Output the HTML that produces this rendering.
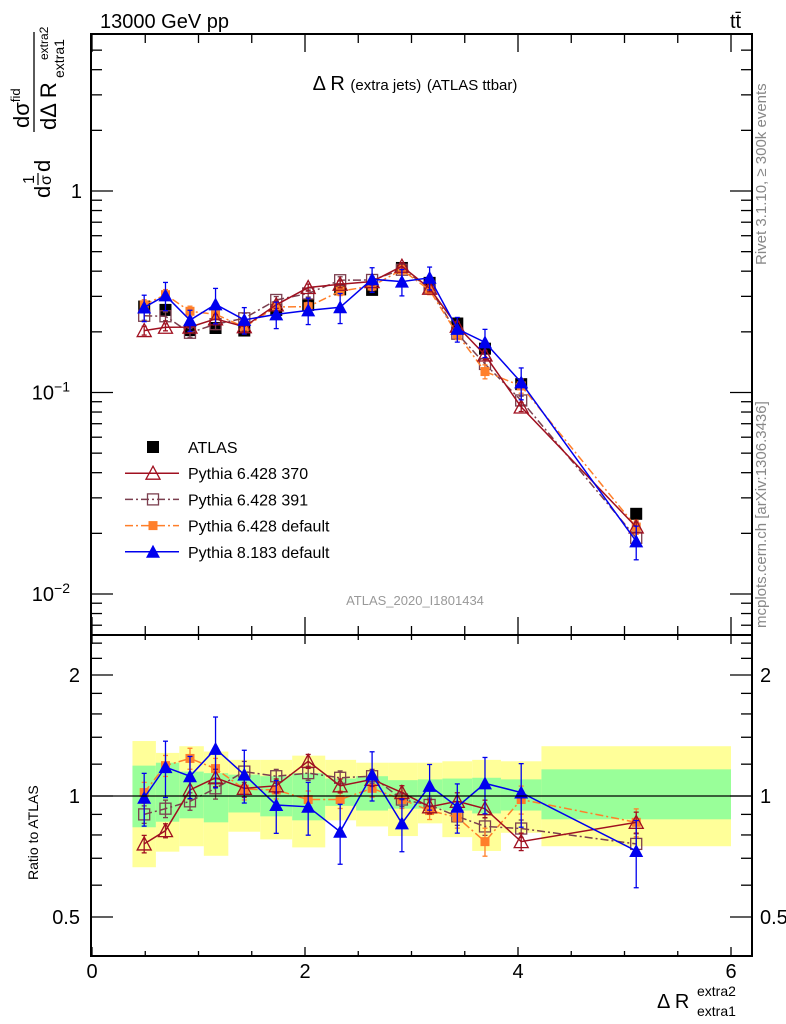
<!DOCTYPE html>
<html><head><meta charset="utf-8"><style>
body{margin:0;background:#fff}
svg{display:block;font-family:"Liberation Sans",sans-serif}
</style></head><body>
<svg id="chart" width="786" height="1024" xmlns="http://www.w3.org/2000/svg">
<g id="bands"></g>
<g id="marks"></g>
<g id="axes"></g>
<text x="100" y="28" font-size="20">13000 GeV pp</text>
<text x="730" y="28" font-size="20">tt̄</text>
<text x="415" y="90" font-size="20" text-anchor="middle">Δ R <tspan font-size="15">(extra jets)</tspan> <tspan font-size="15">(ATLAS ttbar)</tspan></text>
<text x="415" y="605" font-size="13" fill="#999" text-anchor="middle">ATLAS_2020_I1801434</text>
<text transform="translate(766,265) rotate(-90)" font-size="15" fill="#888" text-anchor="start">Rivet 3.1.10, ≥ 300k events</text>
<text transform="translate(766,628) rotate(-90)" font-size="15" fill="#888">mcplots.cern.ch [arXiv:1306.3436]</text>
<g transform="translate(0,200) rotate(-90)">
 <text x="2" y="50" font-size="22">d</text>
 <text x="16" y="34" font-size="16">1</text>
 <line x1="15" x2="27" y1="38" y2="38" stroke="#000" stroke-width="1.2"/>
 <text x="15" y="51" font-size="16">σ</text>
 <text x="28" y="50" font-size="22">d</text>
 <text x="72" y="29" font-size="22">dσ<tspan font-size="13" dy="-9">fid</tspan></text>
 <line x1="68" x2="168" y1="34" y2="34" stroke="#000" stroke-width="1.3"/>
 <text x="70" y="56" font-size="22">dΔ R</text>
 <text x="122" y="64" font-size="14">extra1</text>
 <text x="140" y="48" font-size="12">extra2</text>
</g>
<text transform="translate(38,880) rotate(-90)" font-size="14">Ratio to ATLAS</text>
<text x="657" y="1008" font-size="20">Δ R</text>
<text x="697" y="996" font-size="14">extra2</text>
<text x="697" y="1016" font-size="14">extra1</text>
<g id="legend"></g>
</svg>
<script>
const xs=[0.49,0.69,0.92,1.16,1.43,1.73,2.03,2.33,2.63,2.91,3.17,3.43,3.69,4.03,5.11];
const atlas=[0.267,0.257,0.204,0.209,0.203,0.257,0.272,0.325,0.323,0.415,0.35,0.22,0.165,0.11,0.025];
const binEdges=[0.38,0.60,0.82,1.05,1.28,1.58,1.88,2.19,2.48,2.78,3.06,3.29,3.57,3.84,4.22,6.0];
const yelHi=[1.37,1.28,1.33,1.29,1.23,1.23,1.26,1.23,1.21,1.21,1.21,1.22,1.23,1.22,1.33];
const yelLo=[0.665,0.727,0.75,0.71,0.815,0.78,0.745,0.87,0.84,0.795,0.855,0.79,0.73,0.81,0.75];
const grnHi=[1.19,1.21,1.15,1.14,1.13,1.12,1.14,1.105,1.12,1.095,1.10,1.105,1.11,1.10,1.165];
const grnLo=[0.836,0.863,0.88,0.86,0.91,0.89,0.87,0.945,0.92,0.93,0.93,0.92,0.905,0.92,0.875];
const r370=[0.76,0.82,1.035,1.11,1.045,1.06,1.22,1.06,1.10,1.02,0.94,0.97,0.93,0.77,0.86];
const r391=[0.90,0.93,0.97,1.045,1.15,1.12,1.14,1.11,1.12,0.98,0.95,0.89,0.84,0.83,0.76];
const rDef=[1.02,1.19,1.24,1.17,1.04,1.035,0.98,0.98,1.045,0.98,0.92,0.885,0.77,0.98,0.86];
const rP8=[0.99,1.18,1.12,1.31,1.13,0.95,0.94,0.815,1.13,0.855,1.06,0.94,1.075,1.02,0.73];
const e370=[0.05,0.04,0.05,0.05,0.05,0.04,0.04,0.04,0.04,0.04,0.04,0.05,0.05,0.05,0.06];
const e391=[0.05,0.05,0.05,0.06,0.06,0.04,0.04,0.04,0.04,0.04,0.04,0.05,0.05,0.05,0.06];
const eDef=[0.06,0.06,0.06,0.06,0.06,0.05,0.05,0.05,0.05,0.05,0.05,0.06,0.08,0.08,0.08];
const eP8=[0.15,0.16,0.12,0.20,0.15,0.15,0.15,0.17,0.14,0.15,0.13,0.14,0.16,0.18,0.19];
const eAtlas=[0.05,0.05,0.05,0.04,0.04,0.04,0.04,0.04,0.04,0.04,0.04,0.05,0.05,0.05,0.05];
const xTicks=[0,2,4,6];
const NS='http://www.w3.org/2000/svg';
const L=91,R=752,T=34,MB=635,RB=956;
const X=v=>92+v*106.5;
const Ym=v=>191-Math.log10(v)*201.5;
const Yr=v=>796-Math.log10(v)*402;
function mk(tag,at,par){const e=document.createElementNS(NS,tag);for(const k in at)e.setAttribute(k,at[k]);par.appendChild(e);return e;}
const bands=document.getElementById('bands'),marks=document.getElementById('marks'),axes=document.getElementById('axes'),leg=document.getElementById('legend');
for(let i=0;i<yelHi.length;i++){
 let r=mk('rect',{x:X(binEdges[i]),y:Yr(yelHi[i]),width:X(binEdges[i+1])-X(binEdges[i]),height:Yr(yelLo[i])-Yr(yelHi[i]),fill:'#ffff99'},bands);
 
 
 let g=mk('rect',{x:X(binEdges[i]),y:Yr(grnHi[i]),width:X(binEdges[i+1])-X(binEdges[i]),height:Yr(grnLo[i])-Yr(grnHi[i]),fill:'#99ff99'},bands);
 
 
}
mk('line',{x1:L,x2:R,y1:Yr(1),y2:Yr(1),stroke:'#000','stroke-width':1.3},axes);
function marker(type,cx,cy,col,par){
 if(type==='sq'){mk('rect',{x:cx-6,y:cy-6,width:12,height:12,fill:'#000'},par);}
 else if(type==='osq'){mk('rect',{x:cx-5.5,y:cy-5.5,width:11,height:11,fill:'none',stroke:col,'stroke-width':1.3},par);}
 else if(type==='fsq'){mk('rect',{x:cx-4.5,y:cy-4.5,width:9,height:9,fill:col},par);}
 else if(type==='otri'){mk('path',{d:`M${cx},${cy-7}L${cx+7},${cy+6}L${cx-7},${cy+6}Z`,fill:'none',stroke:col,'stroke-width':1.3},par);}
 else {mk('path',{d:`M${cx},${cy-7}L${cx+7},${cy+6}L${cx-7},${cy+6}Z`,fill:col},par);}
}
const series=[
 {name:'pythia-6428-391',r:r391,e:e391,col:'#7b3f4f',dash:'8,3,2,3',m:'osq'},
 {name:'pythia-6428-default',r:rDef,e:eDef,col:'#ff7f2a',dash:'8,3,2,3',m:'fsq'},
 {name:'pythia-6428-370',r:r370,e:e370,col:'#a01020',dash:'',m:'otri'},
 {name:'pythia-8183-default',r:rP8,e:eP8,col:'#0000ee',dash:'',m:'ftri'}];
{const g=mk('g',{},marks);
 xs.forEach((x,i)=>{const cx=X(x);mk('line',{x1:cx,x2:cx,y1:Ym(atlas[i]*(1+eAtlas[i])),y2:Ym(atlas[i]*(1-eAtlas[i])),stroke:'#000','stroke-width':1.3},g);marker('sq',cx,Ym(atlas[i]),'#000',g);});}
series.forEach(s=>{
 [['main',v=>Ym(v),true],['ratio',v=>Yr(v),false]].forEach(([pan,Y,isMain])=>{
  const g=mk('g',{},marks);
  
  
  const vals=xs.map((x,i)=>isMain?atlas[i]*s.r[i]:s.r[i]);
  const pts=xs.map((x,i)=>X(x)+','+Y(vals[i])).join(' ');
  const at={points:pts,fill:'none',stroke:s.col,'stroke-width':1.5};if(s.dash)at['stroke-dasharray']=s.dash;
  mk('polyline',at,g);
  xs.forEach((x,i)=>{const cx=X(x);mk('line',{x1:cx,x2:cx,y1:Y(vals[i]*(1+s.e[i])),y2:Y(vals[i]*(1-s.e[i])),stroke:s.col,'stroke-width':1.3},g);
   mk('line',{x1:cx-2.5,x2:cx+2.5,y1:Y(vals[i]*(1+s.e[i])),y2:Y(vals[i]*(1+s.e[i])),stroke:s.col,'stroke-width':1.3},g);
   mk('line',{x1:cx-2.5,x2:cx+2.5,y1:Y(vals[i]*(1-s.e[i])),y2:Y(vals[i]*(1-s.e[i])),stroke:s.col,'stroke-width':1.3},g);
   marker(s.m,cx,Y(vals[i]),s.col,g);});
 });
});
mk('rect',{x:L,y:T,width:R-L,height:MB-T,fill:'none',stroke:'#000','stroke-width':2},axes);
mk('rect',{x:L,y:MB,width:R-L,height:RB-MB,fill:'none',stroke:'#000','stroke-width':2},axes);
for(let v=0;v<=6.01;v+=0.5){const x=X(v),maj=Math.abs(v-Math.round(v/2)*2)<1e-6;const len=maj?18:9;const sl=maj?9:5;
 mk('line',{x1:x,x2:x,y1:T,y2:T+len,stroke:'#000','stroke-width':1.3},axes);
 mk('line',{x1:x,x2:x,y1:MB,y2:MB-len,stroke:'#000','stroke-width':1.3},axes);
 mk('line',{x1:x,x2:x,y1:MB,y2:MB+sl,stroke:'#000','stroke-width':1.3},axes);
 mk('line',{x1:x,x2:x,y1:RB,y2:RB-sl,stroke:'#000','stroke-width':1.3},axes);}
xTicks.forEach(v=>{const t=mk('text',{x:X(v),y:978,'font-size':20,'text-anchor':'middle'},axes);t.textContent=v;
 
 });
for(let d=-3;d<=0;d++)for(let m=1;m<=9;m++){const v=m*Math.pow(10,d);const y=Ym(v);if(y<T||y>MB)continue;const len=m===1?22:11;
 mk('line',{x1:L,x2:L+len,y1:y,y2:y,stroke:'#000','stroke-width':1.3},axes);mk('line',{x1:R,x2:R-len,y1:y,y2:y,stroke:'#000','stroke-width':1.3},axes);}
[['1',0],['10',-1],['10',-2]].forEach(([b,e])=>{const t=mk('text',{x:e===0?82:70,y:Ym(Math.pow(10,e))+7,'font-size':20,'text-anchor':'end'},axes);
 t.textContent=b;
 if(e<0){const s=mk('tspan',{'font-size':14,dy:-8},t);s.textContent='−'+(-e);}});
[0.5,0.6,0.7,0.8,0.9,1,1.2,1.4,1.6,1.8,2,2.2,2.4].forEach(v=>{const y=Yr(v);if(y<MB||y>RB)return;const maj=[0.5,1,2].includes(v);const len=maj?22:11;
 mk('line',{x1:L,x2:L+len,y1:y,y2:y,stroke:'#000','stroke-width':1.3},axes);mk('line',{x1:R,x2:R-len,y1:y,y2:y,stroke:'#000','stroke-width':1.3},axes);});
[0.5,1,2].forEach(v=>{const lab=String(v);
 let t=mk('text',{x:80,y:Yr(v)+7,'font-size':20,'text-anchor':'end'},axes);t.textContent=lab;
 t=mk('text',{x:760,y:Yr(v)+7,'font-size':20},axes);t.textContent=lab;});
const legItems=[['ATLAS','#000','','sq'],['Pythia 6.428 370','#a01020','','otri'],['Pythia 6.428 391','#7b3f4f','8,3,2,3','osq'],['Pythia 6.428 default','#ff7f2a','8,3,2,3','fsq'],['Pythia 8.183 default','#0000ee','','ftri']];
legItems.forEach((it,i)=>{const y=447+i*26.2;const g=mk('g',{},leg);
 
 
 if(i>0){const a={x1:125,x2:179,y1:y,y2:y,stroke:it[1],'stroke-width':1.5};if(it[2])a['stroke-dasharray']=it[2];mk('line',a,g);}
 marker(it[3],153,y,it[1],g);
 const t=mk('text',{x:188,y:y+6,'font-size':16},g);t.textContent=it[0];});
</script>
</body></html>
